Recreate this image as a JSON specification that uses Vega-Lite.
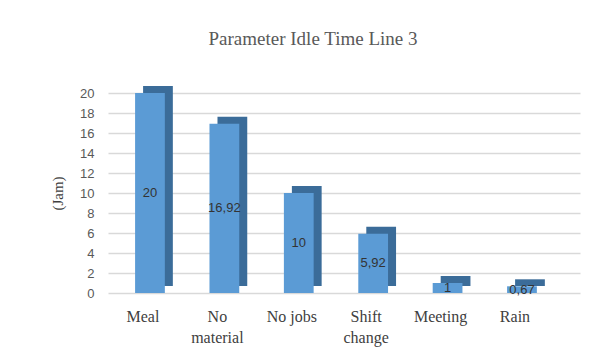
{
  "$schema": "https://vega.github.io/schema/vega-lite/v6.json",
  "width": 472,
  "height": 200,
  "autosize": {"type": "none"},
  "padding": {"left": 108, "top": 93, "right": 34, "bottom": 63},
  "background": "white",
  "title": {"text": "Parameter Idle Time Line 3", "font": "Liberation Serif", "fontSize": 19, "fontWeight": "normal", "color": "#595959", "anchor": "middle", "dx": -31, "offset": 37},
  "data": {"values": [
    {"cause": "Meal", "value": 20, "label": "20"},
    {"cause": "No material", "value": 16.92, "label": "16,92"},
    {"cause": "No jobs", "value": 10, "label": "10"},
    {"cause": "Shift change", "value": 5.92, "label": "5,92"},
    {"cause": "Meeting", "value": 1, "label": "1"},
    {"cause": "Rain", "value": 0.67, "label": "0,67"}
  ]},
  "encoding": {
    "x": {"field": "cause", "type": "nominal", "sort": null,
      "scale": {"paddingInner": 0.6, "paddingOuter": 0.472, "align": 0.286},
      "axis": {"title": null, "labelAngle": 0, "domain": false, "ticks": false, "labelPadding": 15,
        "labelFont": "Liberation Serif", "labelFontSize": 16, "labelColor": "#404040", "labelLineHeight": 21,
        "labelExpr": "datum.label == 'No material' ? ['No', 'material'] : datum.label == 'Shift change' ? ['Shift', 'change'] : datum.label"}},
    "y": {"field": "value", "type": "quantitative", "scale": {"domain": [0, 20], "nice": false},
      "axis": {"title": "(Jam)", "titleFont": "Liberation Serif", "titleFontSize": 15, "titleFontWeight": "normal", "titleColor": "#404040", "titlePadding": 14,
        "labelFont": "Liberation Sans", "labelFontSize": 13, "labelColor": "#595959", "labelPadding": 14,
        "domain": false, "ticks": false, "values": [0, 2, 4, 6, 8, 10, 12, 14, 16, 18, 20],
        "gridColor": "#d9d9d9", "gridWidth": 1.5}}
  },
  "layer": [
    {"mark": {"type": "bar", "color": "#3b6c99", "xOffset": 15, "yOffset": -7}},
    {"mark": {"type": "bar", "color": "#5b9bd5", "xOffset": 7}},
    {"transform": [{"calculate": "datum.value / 2", "as": "mid"}],
      "mark": {"type": "text", "xOffset": 7, "font": "Liberation Sans", "fontSize": 13, "color": "#333333"},
      "encoding": {"y": {"field": "mid", "type": "quantitative"}, "text": {"field": "label"}}}
  ],
  "config": {"view": {"stroke": null}}
}
